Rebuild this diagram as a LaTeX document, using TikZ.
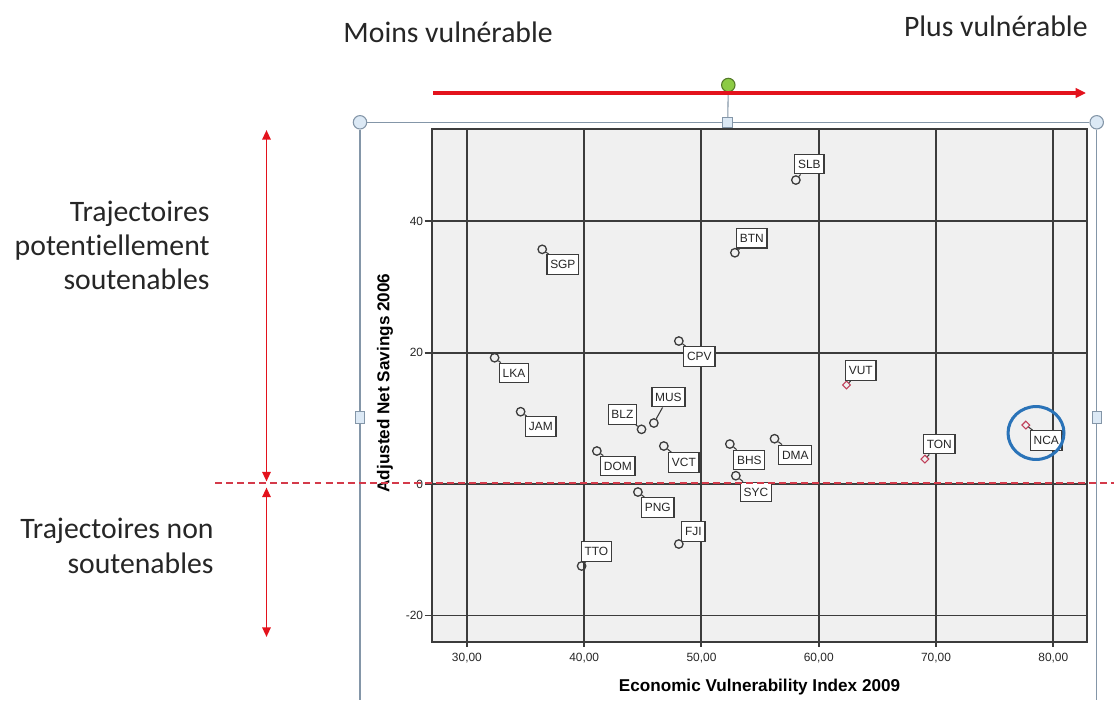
\documentclass[tikz,border=0pt]{standalone}
\usepackage{fontspec}
\setmainfont{Carlito}[Ligatures=NoCommon]
\newfontfamily\arialfont{Liberation Sans}
\usepackage{xcolor}
\usetikzlibrary{arrows.meta, positioning, shapes.geometric}

\definecolor{plotbg}{HTML}{F0F0F0}
\definecolor{gridgray}{HTML}{3C3C3C}
\definecolor{arrowred}{HTML}{E3121C}
\definecolor{dashred}{HTML}{D43A4A}
\definecolor{handleline}{HTML}{8496A8}
\definecolor{handlefill}{HTML}{DCE9F5}
\definecolor{handlegreen}{HTML}{8CCB45}
\definecolor{ringblue}{HTML}{2A73B8}
\definecolor{markred}{HTML}{C0405A}
\definecolor{textgray}{HTML}{262626}

\begin{document}
\begin{tikzpicture}[
  x=0.0162cm, y=-0.0162cm,
  note/.style      = {font=\fontsize{13.7}{15.7}\selectfont, text=textgray, inner sep=0pt},
  dotmark/.style   = {circle, draw=gridgray, line width=0.6pt, minimum size=3.9pt, inner sep=0pt},
  diamark/.style   = {diamond, draw=markred, line width=0.5pt, minimum size=3.8pt, inner sep=0pt},
  tagbox/.style    = {draw=gridgray, fill=white, line width=0.6pt, inner xsep=1.5pt,
                      inner ysep=0pt, minimum height=9pt, text=textgray,
                      font=\arialfont\fontsize{5.5}{6}\selectfont},
  leader/.style    = {gridgray, line width=0.5pt},
  gridline/.style  = {gridgray, line width=0.9pt},
  ticklab/.style   = {font=\arialfont\fontsize{5.5}{6}\selectfont, text=textgray, inner sep=0pt},
  axistitle/.style = {font=\arialfont\bfseries\fontsize{7.9}{9}\selectfont, inner sep=0pt},
  toparrow/.style  = {arrowred, line width=1.5pt, -{Triangle[length=4.8pt, width=4.4pt]}},
  sidearrow/.style = {arrowred, line width=0.9pt,
                      {Triangle[length=4.4pt, width=3.8pt]}-{Triangle[length=4.4pt, width=3.8pt]}},
  zeroline/.style  = {dashred, line width=0.55pt, dash pattern=on 3.2pt off 1.9pt},
  selline/.style   = {handleline, line width=0.5pt},
  selround/.style  = {circle, draw=handleline, fill=handlefill, line width=0.5pt,
                      minimum size=6.2pt, inner sep=0pt},
  selsquare/.style = {rectangle, draw=handleline, fill=handlefill, line width=0.5pt,
                      minimum size=4.4pt, inner sep=0pt},
]
\useasboundingbox (0,0) rectangle (1114,700);

% Selection frame with handles
\node[selround]  (hTL)  at (360,122.3)    {};
\node[selround]  (hTR)  at (1096.7,122.3) {};
\node[selsquare] (hT)   at (727.7,122.3)  {};
\node[selsquare, minimum height=5.4pt, minimum width=4.2pt] (hL) at (360,417.3)    {};
\node[selsquare, minimum height=5.4pt, minimum width=4.2pt] (hR) at (1096.7,417.3) {};
\node[selround, fill=handlegreen, draw=handlegreen!60!black] (hRot) at (728.3,85) {};
\coordinate (hBL) at (360,700);
\coordinate (hBR) at (1096.7,700);
\draw[selline] (hTL) -- (hT) -- (hTR);
\draw[selline] (hTL) -- (hL) -- (hBL);
\draw[selline] (hTR) -- (hR) -- (hBR);
\draw[selline] (hRot) -- (hT);

% Scatter plot in data units
\begin{scope}[shift={(115.1,484)}, x=0.190026cm, y=0.106515cm]
  \fill[plotbg] (27.02,-24.03) rectangle (82.86,54.0);
  \foreach \gx in {30,40,...,80}
    \draw[gridline] (\gx,-24.79) -- (\gx,54.0);
  \foreach \gy in {-20,0,20,40}
    \draw[gridline] (26.4,\gy) -- (82.86,\gy);
  \draw[gridline] (27.02,-24.03) rectangle (82.86,54.0);

  \foreach \gx in {30,40,...,80}
    \node[ticklab] (xt\gx) at (\gx,-26.46) {\gx,00};
  \foreach \gy [count=\k] in {-20,0,20,40}
    \node[ticklab, anchor=east] (yt\k) at (26.3,\gy) {\gy};

  % Countries (circles)
  \node[dotmark] (slb) at (58.05,46.24)  {};
  \node[dotmark] (btn) at (52.85,35.18)  {};
  \node[dotmark] (sgp) at (36.42,35.70)  {};
  \node[dotmark] (cpv) at (48.07,21.75)  {};
  \node[dotmark] (lka) at (32.36,19.21)  {};
  \node[dotmark] (jam) at (34.58,11.00)  {};
  \node[dotmark] (blz) at (44.89,8.32)   {};
  \node[dotmark] (mus) at (45.94,9.28)   {};
  \node[dotmark] (dom) at (41.08,5.02)   {};
  \node[dotmark] (vct) at (46.79,5.78)   {};
  \node[dotmark] (bhs) at (52.42,6.08)   {};
  \node[dotmark] (dma) at (56.23,6.89)   {};
  \node[dotmark] (syc) at (52.93,1.26)   {};
  \node[dotmark] (png) at (44.58,-1.22)  {};
  \node[dotmark] (fji) at (48.07,-9.13)  {};
  \node[dotmark] (tto) at (39.78,-12.47) {};
  % Countries (diamonds)
  \node[diamark] (vut) at (62.37,15.06)  {};
  \node[diamark] (ton) at (69.05,3.80)   {};
  \node[diamark] (nca) at (77.66,8.97)   {};

  % Labels
  \node[tagbox] (slbL) at (59.20,48.67)  {SLB};
  \node[tagbox] (btnL) at (54.30,37.41)  {BTN};
  \node[tagbox] (sgpL) at (38.18,33.38)  {SGP};
  \node[tagbox] (cpvL) at (49.82,19.39)  {CPV};
  \node[tagbox] (lkaL) at (34.01,16.88)  {LKA};
  \node[tagbox] (jamL) at (36.31,8.75)   {JAM};
  \node[tagbox] (blzL) at (43.26,10.57)  {BLZ};
  \node[tagbox] (musL) at (47.18,13.23)  {MUS};
  \node[tagbox] (domL) at (42.87,2.74)   {DOM};
  \node[tagbox] (vctL) at (48.50,3.27)   {VCT};
  \node[tagbox] (bhsL) at (54.08,3.65)   {BHS};
  \node[tagbox] (dmaL) at (58.00,4.41)   {DMA};
  \node[tagbox] (sycL) at (54.64,-1.22)  {SYC};
  \node[tagbox] (pngL) at (46.28,-3.57)  {PNG};
  \node[tagbox] (fjiL) at (49.31,-7.22)  {FJI};
  \node[tagbox] (ttoL) at (41.04,-10.27) {TTO};
  \node[tagbox] (vutL) at (63.59,17.26)  {VUT};
  \node[tagbox] (tonL) at (70.28,6.08)   {TON};
  \node[tagbox] (ncaL) at (79.40,6.62)   {NCA};

  \foreach \c in {slb,btn,sgp,cpv,lka,jam,blz,mus,dom,vct,bhs,dma,syc,png,fji,tto,vut,ton,nca}
    \draw[leader] (\c) -- (\c L);
\end{scope}

% Axis titles
\node[axistitle, anchor=base] (xtitle) at (759.5,691.7) {Economic Vulnerability Index 2009};
\node[axistitle, rotate=90]   (ytitle) at (385,383)     {Adjusted Net Savings 2006};

% NCA highlight
\node[ellipse, draw=ringblue, line width=1.4pt, minimum width=25.8pt,
      minimum height=24.4pt, inner sep=0pt] (ring) at (1036,433) {};

% Zero line
\coordinate (zeroL) at (215,483);
\coordinate (zeroR) at (1114,483);
\draw[zeroline] (zeroL) -- (zeroR);

% Vulnerability arrow
\coordinate (vulnL) at (433,93);
\coordinate (vulnR) at (1086,93);
\draw[toparrow] (vulnL) -- (vulnR);
\node[note, anchor=base west] (moins) at (343,42.7)  {Moins vulnérable};
\node[note, anchor=base east] (plus)  at (1088,36.7) {Plus vulnérable};

% Sustainability arrows
\coordinate (susTop) at (266.5,130);
\coordinate (susBot) at (266.5,481.5);
\coordinate (nonTop) at (266.5,487.5);
\coordinate (nonBot) at (266.5,637);
\draw[sidearrow] (susTop) -- (susBot);
\draw[sidearrow] (nonTop) -- (nonBot);
\node[note, align=right, anchor=base east] (sus) at (210,289.5)
  {Trajectoires\\potentiellement\\soutenables};
\node[note, align=right, anchor=base east] (non) at (214,573)
  {Trajectoires non\\soutenables};

\end{tikzpicture}
\end{document}
